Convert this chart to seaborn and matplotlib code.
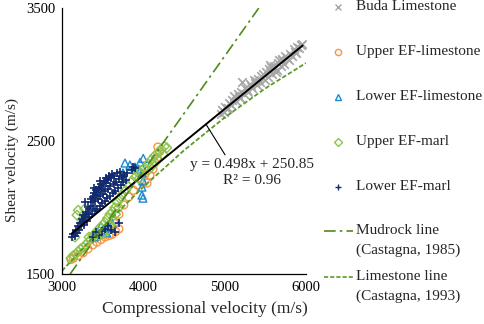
import matplotlib
matplotlib.use('Agg')
import matplotlib.pyplot as plt
from matplotlib.lines import Line2D
import seaborn as sns

# Buda Limestone
buda_vp = [4952, 4968, 4991, 5007, 5036, 5058, 5081, 5094, 5112, 5139, 5161, 5187, 5204,
           5213, 5236, 5252, 5271, 5289, 5307, 5322, 5341, 5363, 5378, 5397, 5416, 5438,
           5452, 5471, 5493, 5512, 5534, 5549, 5566, 5587, 5604, 5619, 5641, 5657, 5672,
           5694, 5711, 5733, 5748, 5766, 5789, 5806, 5831, 5849, 5872, 5891, 5912, 5934,
           5951, 5026, 5172, 5384, 5628, 5879, 5560, 5710]
buda_vs = [2702, 2731, 2722, 2758, 2751, 2788, 2772, 2812, 2841, 2803, 2852, 2823, 2868,
           2944, 2851, 2902, 2881, 2871, 2928, 2912, 2899, 2961, 2938, 2921, 2969, 2941,
           2992, 3008, 2962, 3019, 2983, 3041, 3058, 3002, 3068, 3049, 3032, 3088, 3109,
           3061, 3108, 3082, 3139, 3128, 3111, 3158, 3142, 3189, 3168, 3208, 3199, 3221,
           3228, 2742, 2829, 2953, 3021, 3162, 3070, 3120]

# Upper EF-limestone
uefl_vp = [3110, 3140, 3200, 3260, 3320, 3380, 3430, 3480, 3530, 3580, 3620, 3660, 3700,
           3650, 3600, 3560, 3700, 3760, 3820, 3880, 3930, 3980, 4045, 4082, 4120, 4168,
           4180, 4200, 4140, 4020]
uefl_vs = [1610, 1620, 1640, 1660, 1690, 1720, 1740, 1760, 1780, 1790, 1800, 1820, 1840,
           1880, 1860, 1840, 1950, 2020, 2080, 2130, 2170, 2200, 2184, 2244, 2290, 2372,
           2455, 2420, 2340, 2250]

# Lower EF-limestone
lefl_vp = [3836, 3898, 3984, 3984, 3984, 3996, 3996, 3750, 3775, 3960, 4000, 3940, 3400,
           3450, 3500, 3550, 3580, 3480, 3620]
lefl_vs = [2320, 2305, 2260, 2154, 2094, 2071, 2200, 2260, 2335, 2340, 2370, 2290, 1780,
           1800, 1830, 1810, 1850, 1860, 1880]

# Upper EF-marl
uefm_vp = [3110, 3140, 3170, 3200, 3230, 3260, 3290, 3320, 3350, 3380, 3410, 3440, 3470,
           3500, 3530, 3560, 3590, 3620, 3650, 3680, 3710, 3740, 3780, 3820, 3860, 3900,
           3940, 3980, 4020, 4060, 4100, 4140, 4180, 4220, 4260, 4290, 4240, 4180, 4120,
           4060, 3950, 3560, 3600, 3640, 3500, 3460, 3660, 3700, 3184, 3246, 3200, 3280,
           3160, 3332, 3300]
uefm_vs = [1620, 1640, 1650, 1670, 1690, 1700, 1720, 1740, 1760, 1790, 1800, 1830, 1850,
           1870, 1890, 1920, 1950, 1970, 2000, 2040, 2070, 2100, 2130, 2160, 2200, 2230,
           2260, 2280, 2300, 2330, 2360, 2390, 2410, 2440, 2460, 2450, 2400, 2360, 2320,
           2280, 2220, 1830, 1870, 1900, 1800, 1790, 1950, 2000, 1944, 1906, 1980, 1990,
           1778, 1778, 1920]

# Lower EF-marl (vp, vs)
lefm_pts = [(3128, 1776), (3142, 1805), (3155, 1788), (3168, 1830), (3181, 1812), (3197, 1858),
            (3206, 1835), (3219, 1884), (3233, 1862), (3241, 1915), (3256, 1897), (3263, 1942),
            (3274, 1871), (3287, 1926), (3295, 1968), (3306, 1903), (3318, 1952), (3324, 2004),
            (3337, 1928), (3345, 1986), (3352, 2041), (3361, 2067), (3368, 1949), (3376, 2012),
            (3383, 2083), (3392, 2108), (3401, 1972), (3408, 2047), (3415, 2095), (3423, 2136),
            (3431, 1990), (3438, 2061), (3446, 2118), (3453, 2158), (3462, 2010), (3469, 2087),
            (3477, 2142), (3484, 2181), (3493, 2034), (3501, 2105), (3508, 2166), (3516, 2202),
            (3524, 2051), (3532, 2124), (3539, 2187), (3547, 2226), (3556, 2069), (3563, 2143),
            (3571, 2205), (3579, 2240), (3588, 2088), (3596, 2161), (3604, 2219), (3613, 2252),
            (3622, 2107), (3635, 2178), (3644, 2234), (3658, 2126), (3667, 2196), (3676, 2258),
            (3689, 2148), (3701, 2212), (3712, 2271), (3728, 2167), (3741, 2229), (3756, 2190),
            (3768, 2247), (3785, 2206), (3797, 2262), (3862, 2284), (3879, 2302), (3903, 2297),
            (3455, 1793), (3497, 1826), (3534, 1838), (3566, 1862), (3602, 1828), (3648, 1817),
            (3697, 1884), (3377, 1781), (3421, 1818), (3288, 2045), (3470, 2200), (3395, 2150)]
lefm_vp = [p[0] for p in lefm_pts]
lefm_vs = [p[1] for p in lefm_pts]

# trend and reference lines
reg_vp = [3120, 5960]
reg_vs = [1804.6, 3218.9]
mud_vp = [3100, 5420]
mud_vs = [1500, 3500]
lime_vp = [3000, 3500, 4000, 4500, 5000, 5500, 6000]
lime_vs = [1524, 1854, 2155, 2430, 2677, 2896, 3087]

groups = [
    ('Buda Limestone', buda_vp, buda_vs, '#A6A6A6', 'x'),
    ('Upper EF-limestone', uefl_vp, uefl_vs, '#F79646', 'o'),
    ('Lower EF-limestone', lefl_vp, lefl_vs, '#1E88D0', '^'),
    ('Upper EF-marl', uefm_vp, uefm_vs, '#8DC34F', 'D'),
    ('Lower EF-marl', lefm_vp, lefm_vs, '#112A6E', '+'),
]
mud_color = '#4F8A1E'
lime_color = '#5C9A2A'
mud_ls = (0, (7, 2.5, 1.5, 2.5))
lime_ls = (0, (2.5, 1.2))

sns.set_style('white')
plt.rcParams['font.family'] = ['Liberation Serif', 'DejaVu Serif']

fig = plt.figure(figsize=(4.84, 3.24), dpi=100)
ax = fig.add_axes([0.128, 0.154, 0.504, 0.821])

for name, vp, vs, col, mk in groups:
    if mk in ('x', '+'):
        sns.scatterplot(x=vp, y=vs, marker=mk, s=38, color=col, linewidth=1.2, ax=ax)
    else:
        size = 24 if mk == 'D' else 32
        sns.scatterplot(x=vp, y=vs, marker=mk, s=size, color=col, facecolor='none',
                        edgecolor=col, linewidth=1.0, ax=ax)

sns.lineplot(x=reg_vp, y=reg_vs, color='black', linewidth=1.4, ax=ax)
ax.plot(mud_vp, mud_vs, color=mud_color, linewidth=1.2, linestyle=mud_ls)
ax.plot(lime_vp, lime_vs, color=lime_color, linewidth=1.3, linestyle=lime_ls)

ax.annotate('y = 0.498x + 250.85\nR² = 0.96', xy=(4771, 2627), xytext=(5336, 2265),
            ha='center', va='center', fontsize=11, linespacing=1.25,
            arrowprops=dict(arrowstyle='-', color='black', lw=0.8, shrinkA=0, shrinkB=0,
                            relpos=(0.3, 1.0)))

ax.set_xlim(3000, 6000)
ax.set_ylim(1500, 3500)
ax.set_xticks([3000, 4000, 5000, 6000])
ax.set_yticks([1500, 2500, 3500])
ax.tick_params(direction='in', length=4, width=0.8, labelsize=10.5, pad=5, colors='black')
for s in ['top', 'right']:
    ax.spines[s].set_visible(False)
for s in ['left', 'bottom']:
    ax.spines[s].set_color('black')
    ax.spines[s].set_linewidth(0.9)

ax.set_xlabel('Compressional velocity (m/s)', fontsize=12.5)
ax.set_ylabel('Shear velocity (m/s)', fontsize=11)
ax.xaxis.set_label_coords((205 - 62) / 244, -0.102)
ax.yaxis.set_label_coords((19 - 62) / 244, 0.429)

# legend drawn by hand so the line entries keep their handle on the first line
W, H = 484.0, 324.0
rows = [7, 52, 97, 142, 187]
for (name, vp, vs, col, mk), ypx in zip(groups, rows):
    yf = 1 - ypx / H
    if mk in ('x', '+'):
        h = Line2D([338 / W], [yf], marker=mk, color=col, markersize=4.5, mew=1.0,
                   linestyle='none', transform=fig.transFigure)
    else:
        h = Line2D([338 / W], [yf], marker=mk, markerfacecolor='none', markeredgecolor=col,
                   markersize=4 if mk == 'D' else 4.5, mew=1.0, linestyle='none',
                   transform=fig.transFigure)
    fig.add_artist(h)
    fig.text(356 / W, yf, name, fontsize=11, va='center', ha='left')

line_rows = [(231, 250, 'Mudrock line', '(Castagna, 1985)', mud_color, mud_ls),
             (277, 296, 'Limestone line', '(Castagna, 1993)', lime_color, lime_ls)]
for y1, y2, t1, t2, col, ls in line_rows:
    yf = 1 - y1 / H
    fig.add_artist(Line2D([324 / W, 353 / W], [yf, yf], color=col, linewidth=1.2,
                          linestyle=ls, transform=fig.transFigure))
    fig.text(356 / W, yf, t1, fontsize=11, va='center', ha='left')
    fig.text(356 / W, 1 - y2 / H, t2, fontsize=11, va='center', ha='left')

fig.savefig('out.png', dpi=100)
